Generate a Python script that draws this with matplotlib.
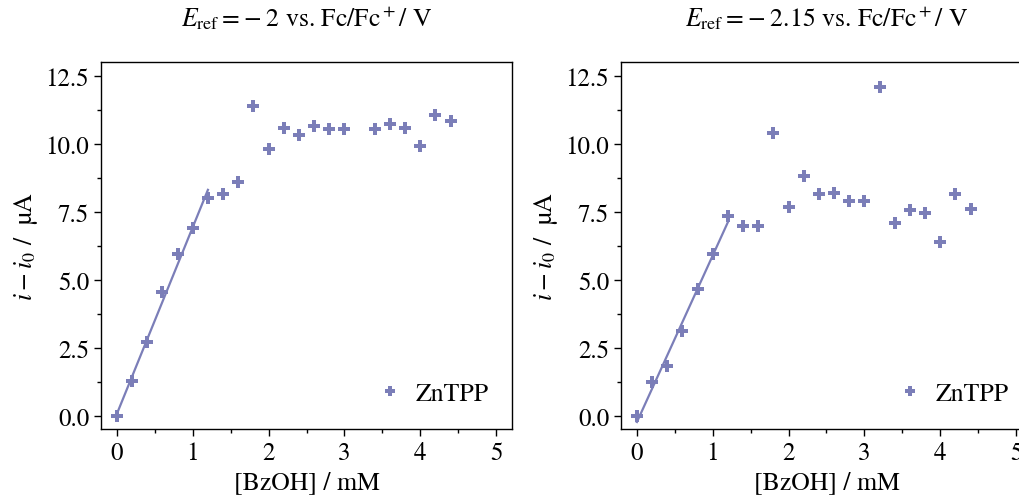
import matplotlib
matplotlib.use('Agg')
import matplotlib.pyplot as plt
import numpy as np

plt.rcParams['font.family'] = ['STIXGeneral', 'DejaVu Serif']
plt.rcParams['mathtext.fontset'] = 'stix'

conc_a = [0.0, 0.2, 0.4, 0.6, 0.8, 1.0, 1.2, 1.4, 1.6, 1.8, 2.0, 2.2, 2.4,
          2.6, 2.8, 3.0, 3.4, 3.6, 3.8, 4.0, 4.2, 4.4]
current_a = [0.0, 1.28, 2.69, 4.53, 5.93, 6.88, 7.99, 8.16, 8.59, 11.40, 9.80,
             10.58, 10.33, 10.63, 10.52, 10.52, 10.52, 10.73, 10.58, 9.91,
             11.06, 10.83]

conc_b = [0.0, 0.2, 0.4, 0.6, 0.8, 1.0, 1.2, 1.4, 1.6, 1.8, 2.0, 2.2, 2.4,
          2.6, 2.8, 3.0, 3.2, 3.4, 3.6, 3.8, 4.0, 4.2, 4.4]
current_b = [0.0, 1.22, 1.83, 3.10, 4.65, 5.96, 7.33, 6.97, 6.97, 10.40, 7.66,
             8.82, 8.15, 8.20, 7.90, 7.90, 12.07, 7.07, 7.56, 7.46, 6.40,
             8.15, 7.61]

titles = [r'$E_\mathrm{ref} = -\;2$ vs. Fc/Fc$^+$/ V',
          r'$E_\mathrm{ref} = -\;2.15$ vs. Fc/Fc$^+$/ V']
fit_max = 1.2
color = '#7b7eb8'

fig = plt.figure(figsize=(10.2, 5.02), dpi=100)
positions = [[101 / 1020, 72 / 502, 411 / 1020, 367 / 502],
             [621 / 1020, 72 / 502, 411 / 1020, 367 / 502]]

for pos, x, y, title in zip(positions, [conc_a, conc_b],
                            [current_a, current_b], titles):
    ax = fig.add_axes(pos)
    x = np.array(x)
    y = np.array(y)
    ax.plot(x, y, 'P', color=color, markersize=9, markeredgewidth=0,
            label='ZnTPP')
    # linear fit of the low-concentration region
    sel = x <= fit_max + 1e-9
    slope, icpt = np.polyfit(x[sel], y[sel], 1)
    xf = np.array([0.0, fit_max])
    ax.plot(xf, slope * xf + icpt, '-', color=color, lw=1.6)

    ax.set_xlim(-0.21, 5.21)
    ax.set_ylim(-0.49, 13.0)
    ax.set_xticks([0, 1, 2, 3, 4, 5])
    ax.set_xticks(np.arange(0.5, 5, 1.0), minor=True)
    ax.set_yticks([0, 2.5, 5, 7.5, 10, 12.5])
    ax.set_yticks(np.arange(1.25, 13, 2.5), minor=True)
    ax.set_yticklabels(['0.0', '2.5', '5.0', '7.5', '10.0', '12.5'])
    ax.tick_params(which='major', direction='out', length=5, width=1,
                   labelsize=18, top=False, right=False)
    ax.tick_params(which='minor', direction='out', length=3, width=1,
                   top=False, right=False)
    for s in ax.spines.values():
        s.set_linewidth(1.0)
    ax.set_xlabel('[BzOH] / mM', fontsize=18.5, labelpad=4)
    ax.set_ylabel(r'$i - i_0$ /  µA', fontsize=18.5, labelpad=4)
    ax.set_title(title, fontsize=18.5, pad=26)
    ax.legend(loc='lower right', frameon=False, fontsize=18.5,
              markerscale=0.75, handlelength=1.4, handletextpad=0.3,
              borderaxespad=0.5)

fig.savefig('out.png', dpi=100)
